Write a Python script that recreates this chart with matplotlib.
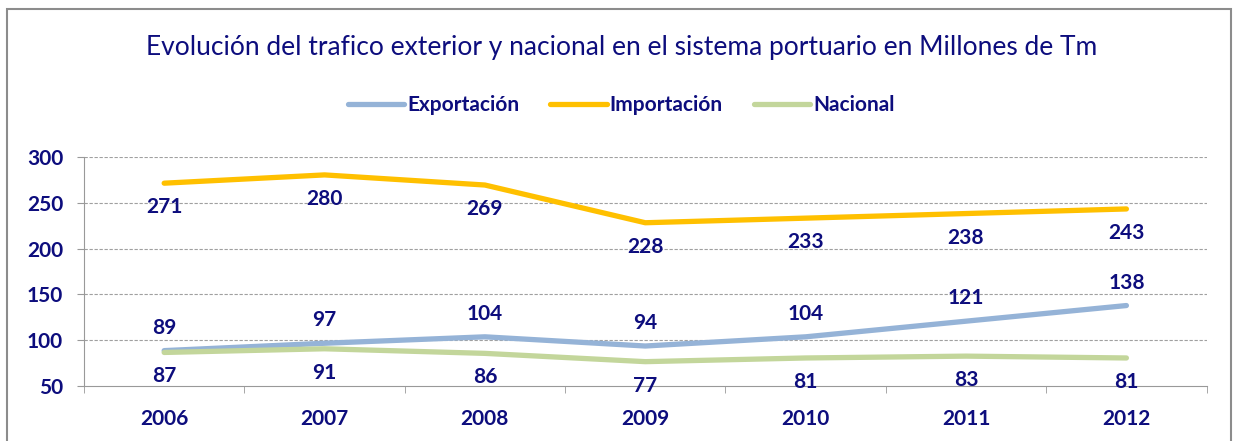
import numpy as np
import matplotlib.pyplot as plt
from matplotlib.patches import Rectangle

# Datos (millones de Tm)
anios = ["2006", "2007", "2008", "2009", "2010", "2011", "2012"]
exportacion = [89, 97, 104, 94, 104, 121, 138]
importacion = [271, 280, 269, 228, 233, 238, 243]
nacional = [87, 91, 86, 77, 81, 83, 81]

azul_texto = "#0d0d7d"
plt.rcParams['font.family'] = ['Lato', 'DejaVu Sans']

fig = plt.figure(figsize=(12.35, 4.41), dpi=100)
ax = fig.add_axes([0.068, 0.1236, 0.909, 0.5215])

x = np.arange(len(anios))
# (nombre, valores, color, desplazamiento de la etiqueta en px)
series = [
    ("Exportación", exportacion, "#95b3d7", 23),
    ("Importación", importacion, "#ffc000", -24),
    ("Nacional", nacional, "#c3d69b", -24),
]
for nombre, valores, color, desp in series:
    ax.plot(x, valores, color=color, lw=3.8, label=nombre, solid_capstyle='round')
    for xi, v in zip(x, valores):
        ax.annotate(str(v), (xi, v), textcoords="offset points", xytext=(0, desp * 0.72),
                    ha='center', va='center', fontsize=15, fontweight='bold', color=azul_texto)

ax.set_xlim(-0.5, 6.5)
ax.set_ylim(50, 300)
ax.set_yticks(np.arange(50, 301, 50))
ax.set_xticks(x)
ax.set_xticklabels(anios)
ax.set_xticks(np.arange(-0.5, 7, 1), minor=True)
ax.tick_params(axis='x', which='major', length=0, pad=16)
ax.tick_params(axis='x', which='minor', length=5, color='#999999', direction='out')
ax.tick_params(axis='y', length=5, color='#999999', pad=10)
for lab in ax.get_xticklabels() + ax.get_yticklabels():
    lab.set_fontsize(15)
    lab.set_fontweight('bold')
    lab.set_color(azul_texto)

for y in [100, 150, 200, 250, 300]:
    ax.axhline(y, color='#a0a0a0', lw=0.8, ls=(0, (3, 1.5)), zorder=0)

for lado in ['top', 'right']:
    ax.spines[lado].set_visible(False)
ax.spines['left'].set_color('#999999')
ax.spines['bottom'].set_color('#999999')

fig.text(0.503, 0.893, "Evolución del trafico exterior y nacional en el sistema portuario en Millones de Tm",
         ha='center', va='center', fontsize=19, color=azul_texto)

leg = fig.legend(loc='center', bbox_to_anchor=(0.503, 0.762), ncol=3, frameon=False,
                 handlelength=2.7, columnspacing=1.5, handletextpad=0.15,
                 prop={'size': 15, 'weight': 'bold'}, labelcolor=azul_texto)

fig.patches.append(Rectangle((7 / 1235, -0.05), 1224 / 1235, 1.05 - 9 / 441,
                             transform=fig.transFigure, fill=False,
                             edgecolor='#8c8c8c', lw=1.5))

fig.savefig("out.png", dpi=100)
